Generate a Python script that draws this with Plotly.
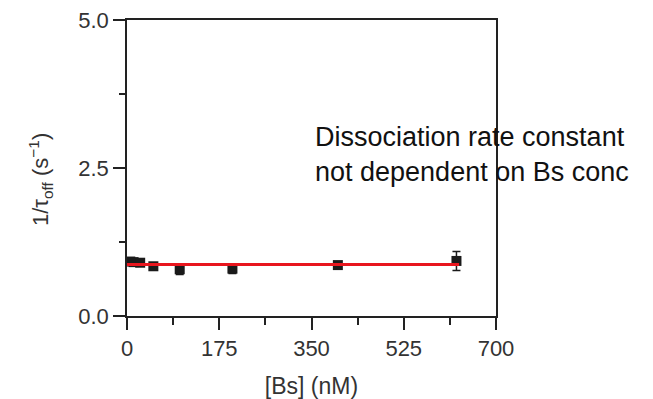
import plotly.graph_objects as go

conc_nM = [6.25, 12.5, 25, 50, 100, 200, 400, 625]
rate = [0.92, 0.91, 0.90, 0.84, 0.79, 0.80, 0.86, 0.93]
rate_err = [0.04, 0.03, 0.03, 0.05, 0.09, 0.08, 0.05, 0.16]
fit_x = [0, 630]
fit_y = [0.87, 0.87]

x_ticks = [0, 175, 350, 525, 700]
y_ticks = [0, 2.5, 5.0]
y_tick_labels = ["0.0", "2.5", "5.0"]

FONT = "Liberation Sans, Arial, sans-serif"

fig = go.Figure()
fig.add_trace(go.Scatter(
    x=conc_nM, y=rate, mode="markers",
    marker=dict(symbol="square", size=10, color="#1a1a1a"),
    error_y=dict(type="data", array=rate_err, visible=True, color="#1a1a1a", thickness=1.5, width=4),
    showlegend=False,
))
fig.add_trace(go.Scatter(
    x=fit_x, y=fit_y, mode="lines",
    line=dict(color="#e8161e", width=3),
    showlegend=False,
))

axis_common = dict(
    showgrid=False, zeroline=False, showline=True, linecolor="#222222", linewidth=1.5,
    mirror=True, ticks="outside", ticklen=12, tickwidth=1.5, tickcolor="#222222",
    tickfont=dict(family=FONT, size=22, color="#333333"), automargin=False,
)

fig.update_xaxes(
    range=[0, 700], tickvals=x_ticks, ticktext=[str(v) for v in x_ticks],
    minor=dict(dtick=87.5, tick0=0, ticklen=7, tickwidth=1.5, tickcolor="#222222", ticks="outside"),
    title=dict(text="[Bs] (nM)", font=dict(family=FONT, size=23, color="#333333"), standoff=21),
    **axis_common,
)
fig.update_yaxes(
    range=[0, 5], tickvals=y_ticks, ticktext=y_tick_labels,
    minor=dict(dtick=1.25, tick0=0, ticklen=6, tickwidth=1.5, tickcolor="#222222", ticks="outside"),
    **axis_common,
)

# y-axis title as a rotated annotation for precise placement
fig.add_annotation(
    x=0, xref="paper", xanchor="center", xshift=40 - 127,
    y=0.5, yref="paper", yanchor="middle", yshift=-12,
    textangle=-90,
    text="1/τ<sub>off</sub> (s<sup>−1</sup>)",
    showarrow=False,
    font=dict(family=FONT, size=22, color="#333333"),
)

fig.add_annotation(
    x=0, xref="paper", xanchor="left", xshift=313 - 127,
    y=1, yref="paper", yanchor="top", yshift=-(120 - 20),
    text="Dissociation rate constant<br>not dependent on Bs conc",
    showarrow=False, align="left",
    font=dict(family=FONT, size=27, color="#111111"),
)

fig.update_layout(
    width=653, height=399,
    margin=dict(l=127, r=157, t=20, b=83),
    paper_bgcolor="white", plot_bgcolor="white",
)

fig.write_html("out.html")
